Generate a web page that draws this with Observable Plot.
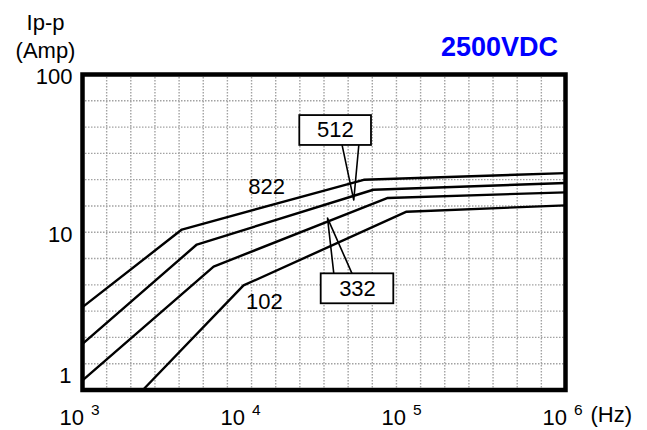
<!DOCTYPE html>
<html><head><meta charset="utf-8">
<script src="https://cdn.jsdelivr.net/npm/d3@7"></script>
<script src="https://cdn.jsdelivr.net/npm/@observablehq/plot@0.6"></script>
<style>html,body{margin:0;padding:0;background:#fff;} #chart svg{display:block}</style>
</head><body><div id="chart"></div>
<script>
// ---- data ----
const seriesNames = ["822", "512", "332", "102"];
const freqs822 = [1000, 4140, 55800, 1000000];
const amps822  = [3.35, 10.4, 21.5, 23.7];
const freqs512 = [1000, 5130, 64000, 1000000];
const amps512  = [1.96, 8.36, 18.6, 20.5];
const freqs332 = [1000, 6520, 78700, 1000000];
const amps332  = [1.15, 6.06, 16.5, 17.9];
const freqs102 = [2370, 10000, 103000, 1000000];
const amps102  = [1.0, 4.6, 13.5, 14.8];

const xTicks = [1e3, 1e4, 1e5, 1e6];
const xTickBase = ["10", "10", "10", "10"];
const xTickExponents = ["3", "4", "5", "6"];
const yTicks = [100, 10];
const yTickBottom = [1];

// plain labels on curves (822, 102)
const plainLabels = ["822", "102"];
const plainLabelFreq = [13900, 13490];
const plainLabelAmp = [19.5, 3.64];

// callout boxes (512, 332)
const calloutLabels = ["512", "332"];
const calloutFreqLo = [22370, 30380];
const calloutFreqHi = [62370, 85800];
const calloutAmpLo = [35.5, 3.52];
const calloutAmpHi = [54.9, 5.45];
const calloutTextFreq = [37250, 51050];
const calloutTextAmp = [44.2, 4.40];
const calloutBaseFreqA = [41000, 36400];
const calloutBaseFreqB = [52000, 47300];
const calloutBaseAmp = [35.5, 5.45];
const calloutTipFreq = [48400, 33260];
const calloutTipAmp = [16, 12.3];

// ---- tables ----
const seriesFreqs = [freqs822, freqs512, freqs332, freqs102];
const seriesAmps = [amps822, amps512, amps332, amps102];
const curveRows = seriesNames.flatMap((s, i) => seriesFreqs[i].map((f, j) => ({s, f, a: seriesAmps[i][j]})));
const boxes = calloutLabels.map((label, i) => ({label, f1: calloutFreqLo[i], f2: calloutFreqHi[i], a1: calloutAmpLo[i], a2: calloutAmpHi[i], tf: calloutTextFreq[i], ta: calloutTextAmp[i]}));
const wedgeRows = calloutLabels.flatMap((label, i) => [
  {label, f: calloutBaseFreqA[i], a: calloutBaseAmp[i]},
  {label, f: calloutTipFreq[i], a: calloutTipAmp[i]},
  {label, f: calloutBaseFreqB[i], a: calloutBaseAmp[i]}
]);
const plain = plainLabels.map((t, i) => ({t, f: plainLabelFreq[i], a: plainLabelAmp[i]}));
const xTickRows = xTicks.map((v, i) => ({v, base: xTickBase[i], exp: xTickExponents[i]}));

// background grid (evenly spaced dotted grid: 20 columns, 12 rows)
const gridX = d3.range(1, 20).map(k => 10 ** (3 + 3 * k / 20));
const gridY = d3.range(1, 12).map(k => 10 ** (2 * k / 12));

const FONT = "'Liberation Sans', Arial, Helvetica, sans-serif";
const gridStyle = {stroke: "#a2a2a2", strokeWidth: 1.4, strokeDasharray: "1.5,1.5"};

const chart = Plot.plot({
  width: 647,
  height: 430,
  marginLeft: 82,
  marginRight: 82,
  marginTop: 74,
  marginBottom: 40.5,
  style: {fontFamily: FONT, background: "#fff", color: "#000"},
  x: {type: "log", domain: [1e3, 1e6], axis: null},
  y: {type: "log", domain: [1, 100], axis: null},
  marks: [
    Plot.ruleX(gridX, gridStyle),
    Plot.ruleY(gridY, gridStyle),
    Plot.line(curveRows, {x: "f", y: "a", z: "s", stroke: "#000", strokeWidth: 2.4}),
    Plot.line(wedgeRows, {x: "f", y: "a", z: "label", stroke: "#000", strokeWidth: 1.6}),
    Plot.rect(boxes, {x1: "f1", x2: "f2", y1: "a1", y2: "a2", fill: "#fff", stroke: "#000", strokeWidth: 1.8}),
    Plot.text(boxes, {x: "tf", y: "ta", text: "label", fontSize: 22, lineAnchor: "middle"}),
    Plot.text(plain, {x: "f", y: "a", text: "t", fontSize: 22, lineAnchor: "middle"}),
    // y tick labels
    Plot.text(yTicks, {y: d => d, frameAnchor: "left", text: d => String(d), textAnchor: "end", dx: -10, dy: 2.5, fontSize: 22, lineAnchor: "middle"}),
    Plot.text(yTickBottom, {y: d => d, frameAnchor: "left", text: d => String(d), textAnchor: "end", dx: -11, dy: -14.5, fontSize: 22, lineAnchor: "middle"}),
    // x tick labels: 10 with superscript exponent
    Plot.text(xTickRows, {x: "v", frameAnchor: "bottom", text: "base", textAnchor: "end", dx: 1.5, dy: 34.5, fontSize: 22, lineAnchor: "bottom"}),
    Plot.text(xTickRows, {x: "v", frameAnchor: "bottom", text: "exp", textAnchor: "start", dx: 8.5, dy: 24.5, fontSize: 15.5, lineAnchor: "bottom"}),
    Plot.text(["(Hz)"], {frameAnchor: "bottom-right", text: d => d, textAnchor: "start", dx: 25, dy: 31.5, fontSize: 22, lineAnchor: "bottom"}),
    // axis title and headline
    Plot.text(["Ip-p"], {frameAnchor: "top-left", text: d => d, textAnchor: "middle", dx: -37, dy: -45, fontSize: 22, lineAnchor: "bottom"}),
    Plot.text(["(Amp)"], {frameAnchor: "top-left", text: d => d, textAnchor: "middle", dx: -37, dy: -16.5, fontSize: 22, lineAnchor: "bottom"}),
    Plot.text(["2500VDC"], {frameAnchor: "top-right", text: d => d, textAnchor: "middle", dx: -66, dy: -19, fontSize: 27, fontWeight: "bold", fill: "#0000ff", lineAnchor: "bottom"}),
    Plot.frame({stroke: "#000", strokeWidth: 4.5})
  ]
});
document.getElementById("chart").appendChild(chart);
</script>
</body></html>
